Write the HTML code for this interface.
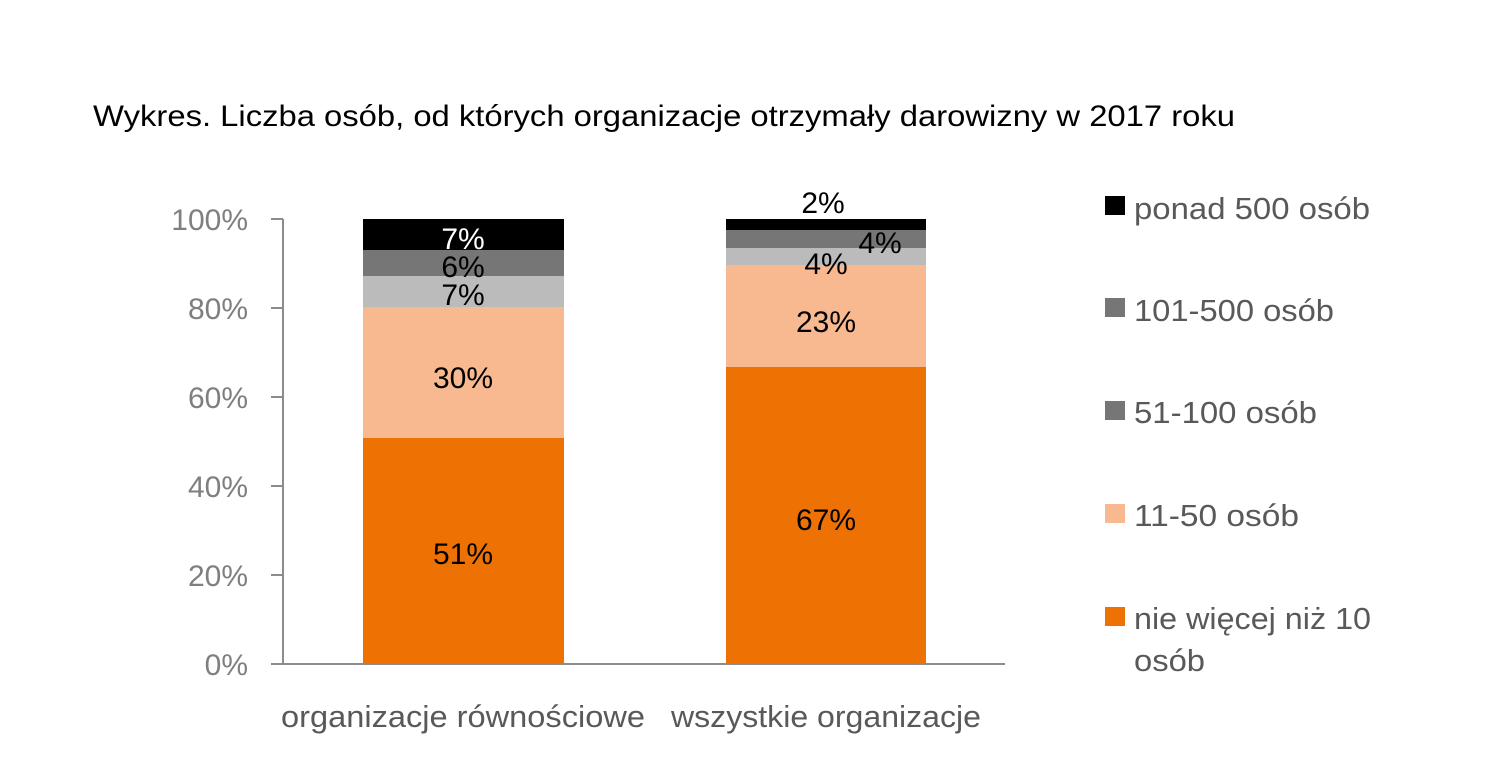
<!DOCTYPE html><html><head><meta charset="utf-8"><style>body{margin:0;background:#fff}</style></head><body>
<svg width="1500" height="770" xmlns="http://www.w3.org/2000/svg" font-family="Liberation Sans, DejaVu Sans, sans-serif">
<rect width="1500" height="770" fill="#fff"/>
<text x="93" y="126" font-size="30" fill="#000" textLength="1142" lengthAdjust="spacingAndGlyphs">Wykres. Liczba osób, od których organizacje otrzymały darowizny w 2017 roku</text>
<g stroke="#8c8c8c" stroke-width="2" fill="none">
<line x1="283" y1="219" x2="283" y2="664"/>
<line x1="283" y1="664" x2="1005" y2="664"/>
<line x1="271" y1="219" x2="283" y2="219"/><line x1="271" y1="308" x2="283" y2="308"/><line x1="271" y1="397" x2="283" y2="397"/><line x1="271" y1="486" x2="283" y2="486"/><line x1="271" y1="575" x2="283" y2="575"/><line x1="271" y1="664" x2="283" y2="664"/>
</g>
<g font-size="30" fill="#7f7f7f" text-anchor="end">
<text x="248" y="230">100%</text><text x="248" y="319">80%</text><text x="248" y="408">60%</text><text x="248" y="497">40%</text><text x="248" y="586">20%</text><text x="248" y="675">0%</text>
</g>
<rect x="363" y="438" width="201" height="226" fill="#ee7203"/>
<rect x="363" y="307" width="201" height="131" fill="#f8b990"/>
<rect x="363" y="276" width="201" height="31" fill="#bbbbbb"/>
<rect x="363" y="250" width="201" height="26" fill="#767676"/>
<rect x="363" y="219" width="201" height="31" fill="#000"/>
<rect x="726" y="367" width="200" height="297" fill="#ee7203"/>
<rect x="726" y="265" width="200" height="102" fill="#f8b990"/>
<rect x="726" y="248" width="200" height="17" fill="#bbbbbb"/>
<rect x="726" y="230" width="200" height="18" fill="#767676"/>
<rect x="726" y="219" width="200" height="11" fill="#000"/>
<g font-size="30" text-anchor="middle" fill="#000">
<text x="463" y="564">51%</text><text x="463" y="388">30%</text><text x="463" y="305">7%</text><text x="463" y="277">6%</text><text x="463" y="249" fill="#fff">7%</text>
<text x="826" y="530">67%</text><text x="826" y="332">23%</text><text x="826" y="274">4%</text><text x="880" y="253">4%</text><text x="823" y="213">2%</text>
</g>
<g font-size="31" fill="#595959" text-anchor="middle">
<text x="463" y="727" textLength="364" lengthAdjust="spacingAndGlyphs">organizacje równościowe</text><text x="826" y="727" textLength="310" lengthAdjust="spacingAndGlyphs">wszystkie organizacje</text>
</g>
<g font-size="31" fill="#595959">
<rect x="1105" y="196" width="20" height="19" fill="#000"/><text x="1134" y="219" textLength="236" lengthAdjust="spacingAndGlyphs">ponad 500 osób</text>
<rect x="1105" y="298" width="20" height="19" fill="#767676"/><text x="1134" y="321" textLength="200" lengthAdjust="spacingAndGlyphs">101-500 osób</text>
<rect x="1105" y="401" width="20" height="19" fill="#767676"/><text x="1134" y="423" textLength="183" lengthAdjust="spacingAndGlyphs">51-100 osób</text>
<rect x="1105" y="504" width="20" height="19" fill="#f8b990"/><text x="1134" y="526" textLength="165" lengthAdjust="spacingAndGlyphs">11-50 osób</text>
<rect x="1105" y="607" width="20" height="19" fill="#ee7203"/><text x="1134" y="629" textLength="237" lengthAdjust="spacingAndGlyphs">nie więcej niż 10</text><text x="1134" y="671" textLength="71" lengthAdjust="spacingAndGlyphs">osób</text>
</g>
</svg></body></html>
